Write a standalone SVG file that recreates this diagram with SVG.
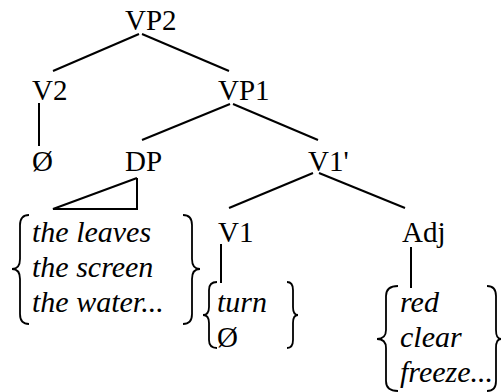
<svg xmlns="http://www.w3.org/2000/svg" width="501" height="392" viewBox="0 0 501 392" font-family="Liberation Serif, serif">
  <style>
    text { font-family: "Liberation Serif", serif !important; fill: #000; }
    .it { font-style: italic; }
  </style>
  <rect width="501" height="392" fill="#fff"/>

  <!-- tree branches -->
  <g id="connectors" stroke="#000" stroke-width="2" fill="none">
    <line x1="139" y1="34" x2="53" y2="71"/>
    <line x1="142" y1="34" x2="229" y2="71"/>
    <line x1="39" y1="103" x2="39" y2="146"/>
    <line x1="230" y1="104" x2="142" y2="140"/>
    <line x1="233" y1="104" x2="318" y2="140"/>
    <line x1="313" y1="173" x2="229" y2="208"/>
    <line x1="319" y1="173" x2="405" y2="208"/>
    <line x1="221" y1="244" x2="221" y2="283"/>
    <line x1="411" y1="247" x2="411" y2="288"/>
    <!-- DP triangle -->
    <polyline points="137,178 53,209 137,209 137,178"/>
  </g>

  <g id="VP2"><text x="125" y="30" font-size="29">VP2</text></g>
  <g id="V2"><text x="32" y="100" font-size="29">V2</text></g>
  <g id="VP1"><text x="218" y="100" font-size="29">VP1</text></g>
  <g id="null-V2"><text x="32" y="171" font-size="29">&#216;</text></g>
  <g id="DP"><text x="125" y="171" font-size="29">DP</text></g>
  <g id="V1bar"><text x="308" y="171" font-size="29">V1'</text></g>
  <g id="V1"><text x="218" y="242" font-size="29">V1</text></g>
  <g id="Adj"><text x="402" y="242" font-size="29">Adj</text></g>

  <!-- DP alternatives -->
  <g id="DP-set">
    <g stroke="#000" stroke-width="1.8" fill="none">
      <path d="M29,215 Q20,215 20,225 L20,259 Q20,269 12,269 Q20,269 20,279 L20,314 Q20,324 29,324"/>
      <path d="M183,215 Q192,215 192,225 L192,259 Q192,269 200,269 Q192,269 192,279 L192,314 Q192,324 183,324"/>
    </g>
    <text class="it" x="32" y="242" font-size="30">the leaves</text>
    <text class="it" x="32" y="277" font-size="30">the screen</text>
    <text class="it" x="32" y="312" font-size="30">the water...</text>
  </g>

  <!-- V1 alternatives -->
  <g id="V1-set">
    <g stroke="#000" stroke-width="1.8" fill="none">
      <path d="M217,282 Q209,282 209,290 L209,307 Q209,315 203,315 Q209,315 209,323 L209,340 Q209,348 217,348"/>
      <path d="M287,282 Q293,282 293,290 L293,307 Q293,315 298,315 Q293,315 293,323 L293,340 Q293,348 287,348"/>
    </g>
    <text class="it" x="217" y="312" font-size="30">turn</text>
    <text x="217" y="347" font-size="29">&#216;</text>
  </g>

  <!-- Adj alternatives -->
  <g id="Adj-set">
    <g stroke="#000" stroke-width="1.8" fill="none">
      <path d="M398,286 Q386,286 386,296 L386,330 Q386,339 377,339 Q386,339 386,348 L386,381 Q386,391 398,391"/>
      <path d="M487,286 Q496,286 496,296 L496,330 Q496,339 501,339 Q496,339 496,348 L496,381 Q496,391 487,391"/>
    </g>
    <text class="it" x="400" y="312" font-size="30">red</text>
    <text class="it" x="400" y="347" font-size="30">clear</text>
    <text class="it" x="400" y="382" font-size="30">freeze...</text>
  </g>
</svg>
